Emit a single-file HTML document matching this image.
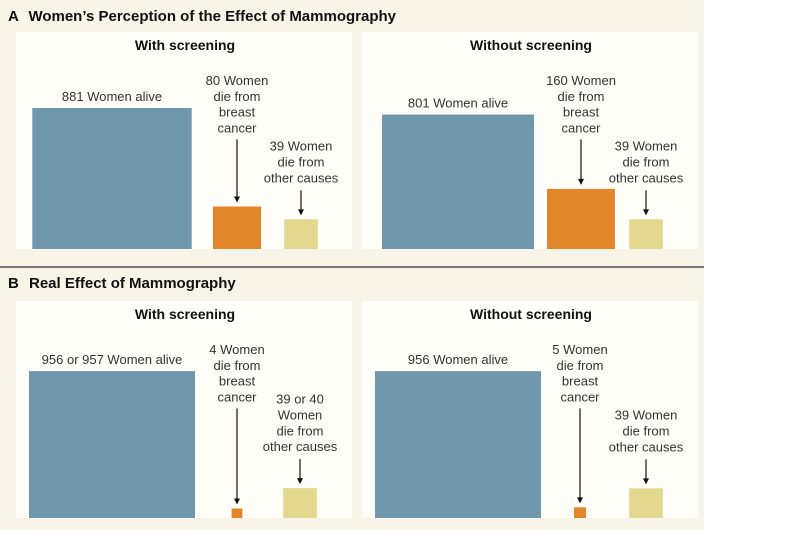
<!DOCTYPE html>
<html><head><meta charset="utf-8"><style>
body{margin:0;background:#fff;}
svg{display:block;font-family:"Liberation Sans",sans-serif;}
</style></head><body>
<svg id="chart" width="810" height="540">
<rect x="0" y="0" width="704" height="530" fill="#f8f5e8"/>
<line x1="0" y1="267" x2="704" y2="267" stroke="#777" stroke-width="2"/>
<text x="8" y="21" font-size="15" font-weight="bold" fill="#111">A <tspan dx="6">Women’s Perception of the Effect of Mammography</tspan></text>
<text x="8" y="288" font-size="15" font-weight="bold" fill="#111">B <tspan dx="6">Real Effect of Mammography</tspan></text>
<g id="panels"></g>
</svg>
<script>
const panelTitles = ["With screening","Without screening","With screening","Without screening"];
const aliveValues = [881, 801, 956.5, 956];
const breastValues = [80, 160, 4, 5];
const otherValues = [39, 39, 39.5, 39];
const aliveLabels = [["881 Women alive"],["801 Women alive"],["956 or 957 Women alive"],["956 Women alive"]];
const breastLabels = [["80 Women","die from","breast","cancer"],["160 Women","die from","breast","cancer"],["4 Women","die from","breast","cancer"],["5 Women","die from","breast","cancer"]];
const otherLabels = [["39 Women","die from","other causes"],["39 Women","die from","other causes"],["39 or 40","Women","die from","other causes"],["39 Women","die from","other causes"]];

const NS="http://www.w3.org/2000/svg";
const g=document.getElementById('panels');
const panelX=[16,362,16,362], panelY=[32,32,301,301], panelBase=[249,249,518,518];
const cx={alive:[112,458,112,458],breast:[237,581,237,580],other:[301,646,300,646]};
const wScale=v=>5.37*Math.sqrt(v), hScale=v=>4.75*Math.sqrt(v);
function mk(tag,attrs){const e=document.createElementNS(NS,tag);for(const k in attrs)e.setAttribute(k,attrs[k]);g.appendChild(e);return e;}
function label(lines,x,yFirst,name){
  const t=mk('text',{x:x,'text-anchor':'middle','font-size':'13',fill:'#333'});
  
  
  lines.forEach((l,i)=>{const s=document.createElementNS(NS,'tspan');s.setAttribute('x',x);s.setAttribute('y',yFirst+i*15.8);s.textContent=l;t.appendChild(s);});
}
function arrow(x,y1,y2,name){
  const l=mk('line',{x1:x,y1:y1,x2:x,y2:y2-5,stroke:'#111','stroke-width':1.2});
  
  
  const p=mk('path',{d:`M${x-3},${y2-6}L${x+3},${y2-6}L${x},${y2}Z`,fill:'#111'});
  
  
}
for(let i=0;i<4;i++){
  const px=panelX[i],py=panelY[i],base=panelBase[i];
  const r=mk('rect',{x:px,y:py,width:336,height:base-py,fill:'#fffdf7'});
  
  
  const t=mk('text',{x:px+169,y:py+18,'text-anchor':'middle','font-size':'14','font-weight':'bold',fill:'#111'});
  t.textContent=panelTitles[i];
  
  
  const series=[['alive',aliveValues,'#6f98ad'],['breast',breastValues,'#e3862a'],['other',otherValues,'#e2d88e']];
  const tops={};
  series.forEach(([key,vals,col])=>{
    const w=wScale(vals[i]),h=hScale(vals[i]);
    const b=mk('rect',{x:cx[key][i]-w/2,y:base-h,width:w,height:h,fill:col});
    
    
    tops[key]=base-h;
  });
  label(aliveLabels[i],cx.alive[i],tops.alive-7,'alive-label');
  const bl=breastLabels[i];
  label(bl,cx.breast[i],py+53,'breast-cancer-label');
  const bEnd=py+53+(bl.length-1)*15.8+7;
  arrow(cx.breast[i],bEnd,tops.breast-4,'breast-arrow');
  const ol=otherLabels[i];
  const aStart=tops.other-29;
  const oStart=aStart-8-(ol.length-1)*15.8;
  label(ol,cx.other[i],oStart,'other-causes-label');
  arrow(cx.other[i],aStart,tops.other-4,'other-arrow');
}
</script>
</body></html>
